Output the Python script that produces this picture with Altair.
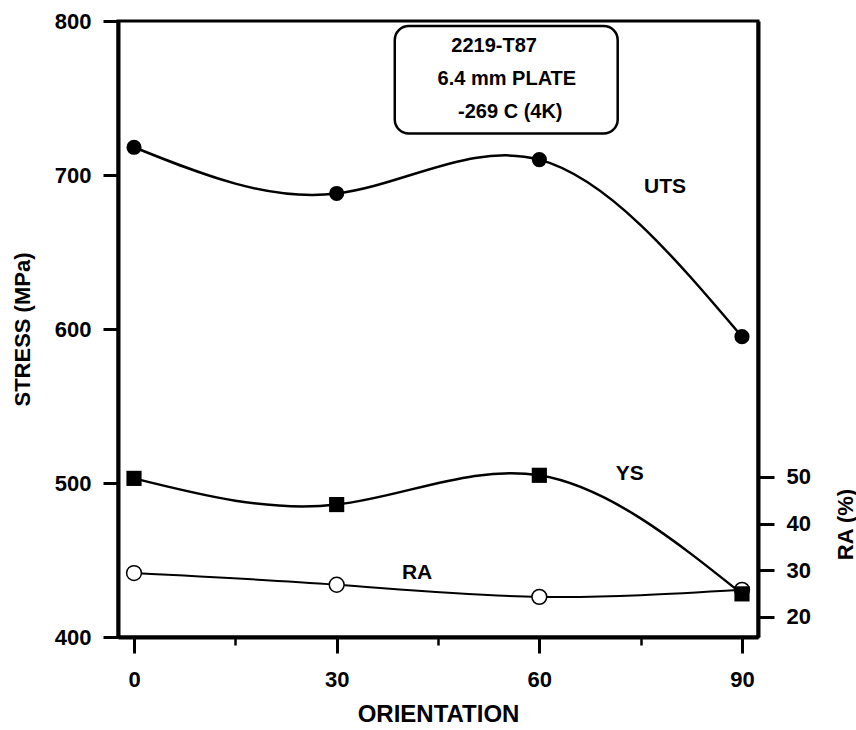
import altair as alt
import pandas as pd

# Tensile results for 2219-T87 plate tested at 4 K
orientation = [0, 30, 60, 90]
uts_mpa = [718, 688, 710, 595]
ys_mpa = [503, 486, 505, 428]
ra_pct = [29.4, 26.9, 24.3, 25.8]

stress_ticks = [400, 500, 600, 700, 800]
orientation_ticks = [0, 30, 60, 90]
orientation_minor_ticks = [15, 45, 75]
ra_ticks = [20, 30, 40, 50]

note_lines = ["2219-T87", "6.4 mm PLATE", "-269 C  (4K)"]
series_labels = ["UTS", "YS", "RA"]

# annotation placement, in data units
NOTE_X = [53.3, 55.2, 55.7]
NOTE_Y = [784.0, 762.5, 741.0]
BOX_X = (38.6, 71.6)
BOX_Y = (727.0, 796.8)
LABEL_X = [78.6, 73.4, 41.9]
LABEL_Y = [692.0, 505.8, 441.6]

FONT = "Liberation Sans"
INK = "black"

x_scale = alt.Scale(domain=[-2.37, 92.37], nice=False, zero=False)
stress_scale = alt.Scale(domain=[400, 800], nice=False, zero=False)
ra_scale = alt.Scale(domain=[15.7, 147.7], nice=False, zero=False)

main_x_axis = alt.Axis(
    orient="bottom", values=orientation_ticks, title="ORIENTATION", grid=False,
    tickSize=16, tickWidth=3, tickColor=INK, domainWidth=4, domainColor=INK,
    labelFontSize=22, labelFontWeight="bold", labelColor=INK, labelPadding=16,
    titleFontSize=24, titleFontWeight="bold", titleColor=INK,
    titleX=320, titleY=77, titleAlign="center", titleBaseline="middle",
)
minor_x_axis = alt.Axis(
    orient="bottom", values=orientation_minor_ticks, labels=False, title=None,
    domain=False, grid=False, tickSize=8, tickWidth=2.5, tickColor=INK,
)
stress_axis = alt.Axis(
    orient="left", values=stress_ticks, title="STRESS (MPa)", grid=False,
    tickSize=15, tickWidth=3, tickColor=INK, domainWidth=4, domainColor=INK,
    labelFontSize=22, labelFontWeight="bold", labelColor=INK, labelPadding=12,
    titleFontSize=22, titleFontWeight="bold", titleColor=INK,
    titleX=-96, titleY=308, titleAngle=270, titleAlign="center", titleBaseline="middle",
)
ra_axis = alt.Axis(
    orient="right", values=ra_ticks, title="RA (%)", grid=False,
    tickSize=16, tickWidth=3, tickColor=INK, domainWidth=4, domainColor=INK,
    labelFontSize=22, labelFontWeight="bold", labelColor=INK, labelPadding=12,
    titleFontSize=22, titleFontWeight="bold", titleColor=INK,
    titleX=87, titleY=503, titleAngle=270, titleAlign="center", titleBaseline="middle",
)

stress_df = pd.DataFrame({
    "orientation": orientation * 2,
    "stress": uts_mpa + ys_mpa,
    "series": ["UTS"] * len(orientation) + ["YS"] * len(orientation),
})
ra_df = pd.DataFrame({"orientation": orientation, "ra": ra_pct})
note_df = pd.DataFrame({"orientation": NOTE_X, "stress": NOTE_Y, "text": note_lines})
label_df = pd.DataFrame({"orientation": LABEL_X, "stress": LABEL_Y, "text": series_labels})
box_df = pd.DataFrame({
    "orientation": [BOX_X[0]], "orientation2": [BOX_X[1]],
    "stress": [BOX_Y[0]], "stress2": [BOX_Y[1]],
})

sx = alt.X("orientation:Q", scale=x_scale, axis=main_x_axis)
sy = alt.Y("stress:Q", scale=stress_scale, axis=stress_axis)

box = alt.Chart(box_df).mark_rect(
    fill="white", stroke=INK, strokeWidth=2.5, cornerRadius=14
).encode(x=sx, x2="orientation2:Q", y=sy, y2="stress2:Q")

stress_lines = alt.Chart(stress_df).mark_line(
    interpolate="natural", color=INK, strokeWidth=2.5
).encode(x=sx, y=sy, detail="series:N")

stress_points = alt.Chart(stress_df).mark_point(
    filled=True, color=INK, size=230, opacity=1
).encode(
    x=sx, y=sy,
    shape=alt.Shape("series:N", scale=alt.Scale(domain=["UTS", "YS"], range=["circle", "square"]), legend=None),
)

note_text = alt.Chart(note_df).mark_text(
    font=FONT, fontSize=20, fontWeight="bold", color=INK, align="center", baseline="middle"
).encode(x=sx, y=sy, text="text:N")

label_text = alt.Chart(label_df).mark_text(
    font=FONT, fontSize=21, fontWeight="bold", color=INK, align="center", baseline="middle"
).encode(x=sx, y=sy, text="text:N")

rx = alt.X("orientation:Q", scale=x_scale, axis=minor_x_axis)
ry = alt.Y("ra:Q", scale=ra_scale, axis=ra_axis)

ra_line = alt.Chart(ra_df).mark_line(
    interpolate="natural", color=INK, strokeWidth=2
).encode(x=rx, y=ry)

ra_points = alt.Chart(ra_df).mark_point(
    shape="circle", fill="white", fillOpacity=1, stroke=INK, strokeWidth=1.5, size=220, opacity=1
).encode(x=rx, y=ry)

ra_group = alt.layer(ra_line, ra_points)
stress_group = alt.layer(box, stress_lines, stress_points, note_text, label_text)

chart = (
    alt.layer(ra_group, stress_group)
    .resolve_scale(y="independent")
    .resolve_axis(x="independent", y="independent")
    .properties(
        width=640, height=616,
        autosize=alt.AutoSizeParams(type="none"),
        padding={"left": 118, "top": 21, "right": 98, "bottom": 93},
        background="white",
    )
    .configure_view(stroke=INK, strokeWidth=3)
    .configure_axis(labelFont=FONT, titleFont=FONT)
    .configure_text(font=FONT)
)

chart.save("out.html", embed_options={"renderer": "svg", "actions": False})
